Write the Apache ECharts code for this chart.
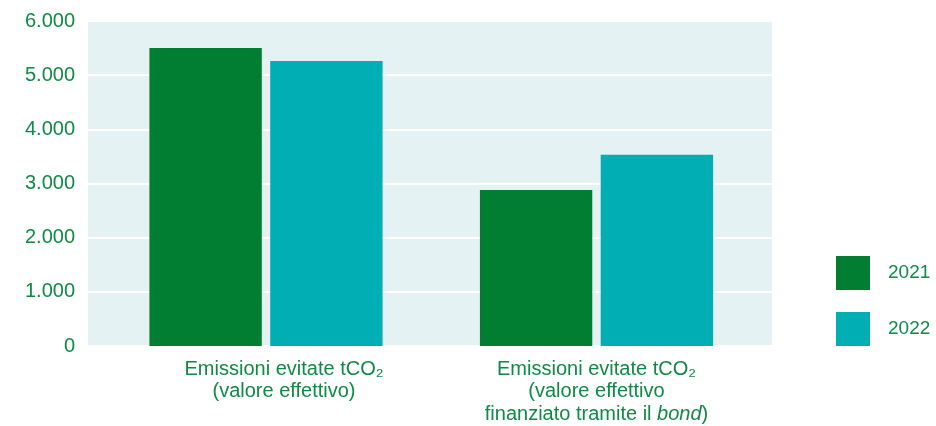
<!DOCTYPE html>
<html><head><meta charset="utf-8">
<script src="https://cdn.jsdelivr.net/npm/echarts@6/dist/echarts.min.js"></script>
<style>html,body{margin:0;padding:0;background:#fff}#c{width:936px;height:426px}</style>
</head><body><div id="c"></div>
<script>
const categories = ['Emissioni evitate tCO₂\n(valore effettivo)', 'Emissioni evitate tCO₂\n(valore effettivo\nfinanziato tramite il bond)'];
const seriesNames = ['2021', '2022'];
const values2021 = [5500, 2880];
const values2022 = [5260, 3530];
const yTicks = [0, 1000, 2000, 3000, 4000, 5000, 6000];

const green = '#027E32';
const teal = '#00AEB4';
const textColor = '#0E8A45';
const font = 'Liberation Sans, Arial, sans-serif';
const yMin = yTicks[0], yMax = yTicks[yTicks.length - 1];

const chart = echarts.init(document.getElementById('c'));
chart.setOption({
  animation: false,
  textStyle: { fontFamily: font },
  grid: [
    { left: 88, right: 164, top: 21, bottom: 80, show: true, backgroundColor: '#E5F2F4', borderWidth: 0 },
    { left: 100.75, right: 174.25, top: 21, bottom: 80 }
  ],
  legend: {
    orient: 'vertical', left: 836, top: 256, padding: 0, itemWidth: 34, itemHeight: 34, itemGap: 22,
    icon: 'rect', textStyle: { color: textColor, fontSize: 19, fontFamily: font, padding: [3, 0, 0, 13] },
    data: seriesNames
  },
  xAxis: [
    { gridIndex: 0, type: 'category', data: categories, show: false },
    {
      gridIndex: 1, type: 'category', data: categories,
      axisLine: { show: false }, axisTick: { show: false },
      axisLabel: {
        color: textColor, fontSize: 20, lineHeight: 22.5, margin: 12, fontFamily: font,
        formatter: (v, idx) => {
          const lines = v.split('\n').map(l => l.replace('bond', '{i|bond}'));
          return idx === 0 ? lines.map(l => '{p|' + l + '}').join('\n') : lines.join('\n');
        },
        rich: {
          i: { fontStyle: 'italic', color: textColor, fontSize: 20, lineHeight: 22.5, fontFamily: font },
          p: { color: textColor, fontSize: 20, lineHeight: 22.5, fontFamily: font, padding: [0, 0, 0, 36] }
        }
      }
    }
  ],
  yAxis: [
    {
      gridIndex: 0, type: 'value', min: yMin, max: yMax, interval: 1000,
      axisLine: { show: false }, axisTick: { show: false },
      splitLine: { lineStyle: { color: '#ffffff', width: 2 } },
      axisLabel: { color: textColor, fontSize: 20, margin: 13, fontFamily: font,
        formatter: v => v.toString().replace(/\B(?=(\d{3})+(?!\d))/g, '.') }
    },
    { gridIndex: 1, type: 'value', min: yMin, max: yMax, interval: 1000, show: false, splitLine: { show: false } }
  ],
  series: [
    { name: seriesNames[0], type: 'bar', xAxisIndex: 1, yAxisIndex: 1, data: values2021, itemStyle: { color: green }, barWidth: '34%', barGap: '7.5%' },
    { name: seriesNames[1], type: 'bar', xAxisIndex: 1, yAxisIndex: 1, data: values2022, itemStyle: { color: teal }, barWidth: '34%', barGap: '7.5%' }
  ]
});
</script></body></html>
